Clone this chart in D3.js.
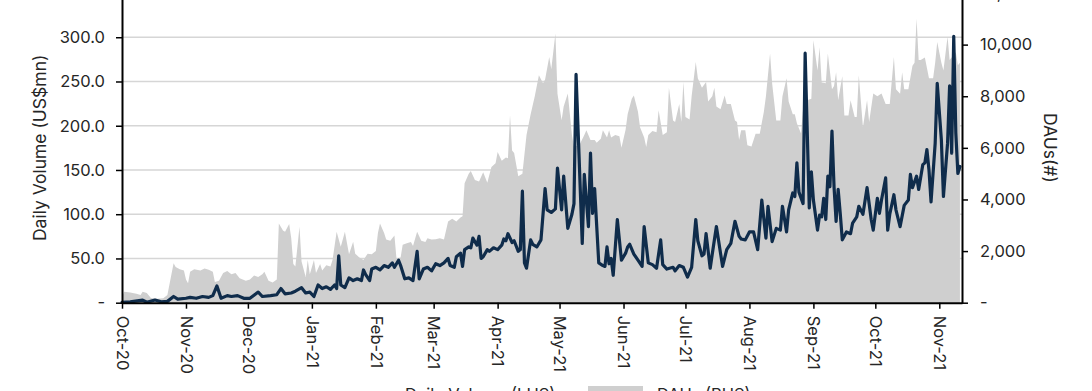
<!DOCTYPE html>
<html><head><meta charset="utf-8">
<script src="https://cdn.jsdelivr.net/npm/d3@7"></script>
<style>
html,body{margin:0;padding:0;background:#fff;overflow:hidden;}
svg{display:block;font-family:Inter,"Noto Sans",sans-serif;}
</style></head><body>
<svg id="chart" width="1092" height="391"></svg>
<script>
const volDates = ["2020-10-01","2020-10-05","2020-10-11","2020-10-13","2020-10-17","2020-10-20","2020-10-23","2020-10-26","2020-10-28","2020-11-01","2020-11-03","2020-11-06","2020-11-09","2020-11-12","2020-11-14","2020-11-16","2020-11-18","2020-11-21","2020-11-23","2020-11-26","2020-11-29","2020-12-02","2020-12-06","2020-12-08","2020-12-12","2020-12-15","2020-12-17","2020-12-19","2020-12-22","2020-12-24","2020-12-27","2020-12-29","2020-12-31","2021-01-02","2021-01-04","2021-01-06","2021-01-08","2021-01-10","2021-01-12","2021-01-13","2021-01-14","2021-01-15","2021-01-17","2021-01-19","2021-01-21","2021-01-23","2021-01-25","2021-01-26","2021-01-27","2021-01-29","2021-01-30","2021-02-01","2021-02-03","2021-02-05","2021-02-07","2021-02-09","2021-02-10","2021-02-12","2021-02-13","2021-02-15","2021-02-17","2021-02-19","2021-02-21","2021-02-22","2021-02-24","2021-02-26","2021-02-28","2021-03-02","2021-03-04","2021-03-06","2021-03-08","2021-03-09","2021-03-11","2021-03-12","2021-03-14","2021-03-15","2021-03-16","2021-03-18","2021-03-19","2021-03-20","2021-03-22","2021-03-23","2021-03-24","2021-03-25","2021-03-27","2021-03-28","2021-03-30","2021-04-01","2021-04-03","2021-04-04","2021-04-05","2021-04-06","2021-04-08","2021-04-09","2021-04-11","2021-04-12","2021-04-13","2021-04-14","2021-04-15","2021-04-17","2021-04-18","2021-04-20","2021-04-22","2021-04-24","2021-04-25","2021-04-27","2021-04-29","2021-04-30","2021-05-02","2021-05-03","2021-05-05","2021-05-07","2021-05-08","2021-05-09","2021-05-12","2021-05-13","2021-05-15","2021-05-16","2021-05-17","2021-05-18","2021-05-20","2021-05-22","2021-05-23","2021-05-24","2021-05-25","2021-05-26","2021-05-27","2021-05-29","2021-05-31","2021-06-02","2021-06-03","2021-06-04","2021-06-06","2021-06-08","2021-06-10","2021-06-11","2021-06-13","2021-06-15","2021-06-17","2021-06-19","2021-06-20","2021-06-22","2021-06-25","2021-06-26","2021-06-28","2021-06-30","2021-07-02","2021-07-04","2021-07-06","2021-07-07","2021-07-09","2021-07-10","2021-07-11","2021-07-13","2021-07-14","2021-07-16","2021-07-18","2021-07-19","2021-07-21","2021-07-23","2021-07-25","2021-07-27","2021-07-28","2021-07-30","2021-08-01","2021-08-03","2021-08-05","2021-08-07","2021-08-09","2021-08-10","2021-08-12","2021-08-14","2021-08-16","2021-08-17","2021-08-19","2021-08-20","2021-08-22","2021-08-23","2021-08-24","2021-08-25","2021-08-27","2021-08-28","2021-08-30","2021-08-31","2021-09-01","2021-09-03","2021-09-04","2021-09-05","2021-09-06","2021-09-07","2021-09-08","2021-09-09","2021-09-10","2021-09-11","2021-09-12","2021-09-13","2021-09-14","2021-09-15","2021-09-17","2021-09-19","2021-09-20","2021-09-22","2021-09-23","2021-09-25","2021-09-27","2021-09-29","2021-09-30","2021-10-02","2021-10-03","2021-10-04","2021-10-06","2021-10-07","2021-10-08","2021-10-10","2021-10-11","2021-10-13","2021-10-15","2021-10-17","2021-10-18","2021-10-19","2021-10-21","2021-10-22","2021-10-24","2021-10-25","2021-10-26","2021-10-27","2021-10-28","2021-10-30","2021-10-31","2021-11-02","2021-11-03","2021-11-05","2021-11-06","2021-11-07","2021-11-08","2021-11-09","2021-11-10","2021-11-11"];
const volValues = [0.5,1,3,0.5,3,1,1.5,7,4,5,6,5,7,6,8,19,5,8,7,8,5,5,12,7,8,9,16,10,11,13,17,11,12,7,20,16,18,15,20,16,53,20,17,28,25,27,25,37,32,25,38,40,37,42,40,45,40,48,42,27,28,25,58,27,38,40,36,44,42,45,50,42,40,52,56,41,60,63,62,73,65,75,50,52,60,58,62,60,65,72,70,78,68,70,58,60,126,45,39,71,66,63,71,129,105,102,106,152,105,143,84,100,112,258,67,145,86,169,101,129,45,42,41,63,44,50,31,94,48,56,63,66,55,48,41,86,45,43,39,71,43,38,40,36,42,40,29,40,94,70,53,55,78,39,55,86,56,41,60,67,92,75,72,71,80,80,60,116,73,109,69,84,82,109,80,105,124,120,158,125,112,282,107,148,116,82,99,97,118,94,143,131,194,131,92,128,101,71,80,78,90,97,109,100,130,94,82,118,101,116,141,82,100,122,105,86,110,116,145,130,143,128,156,158,173,150,114,180,248,184,120,180,245,169,301,192,146,154];

const dauDates = ["2020-10-01","2020-10-02","2020-10-05","2020-10-08","2020-10-10","2020-10-11","2020-10-13","2020-10-15","2020-10-18","2020-10-21","2020-10-23","2020-10-26","2020-10-27","2020-10-29","2020-10-31","2020-11-01","2020-11-02","2020-11-03","2020-11-05","2020-11-08","2020-11-10","2020-11-12","2020-11-14","2020-11-15","2020-11-17","2020-11-19","2020-11-21","2020-11-23","2020-11-25","2020-11-27","2020-11-30","2020-12-02","2020-12-04","2020-12-06","2020-12-08","2020-12-09","2020-12-11","2020-12-13","2020-12-15","2020-12-16","2020-12-18","2020-12-19","2020-12-21","2020-12-22","2020-12-23","2020-12-24","2020-12-26","2020-12-27","2020-12-29","2020-12-30","2020-12-31","2021-01-02","2021-01-03","2021-01-05","2021-01-06","2021-01-08","2021-01-10","2021-01-11","2021-01-13","2021-01-15","2021-01-17","2021-01-19","2021-01-21","2021-01-22","2021-01-24","2021-01-26","2021-01-28","2021-01-30","2021-02-01","2021-02-02","2021-02-03","2021-02-05","2021-02-06","2021-02-08","2021-02-10","2021-02-11","2021-02-13","2021-02-14","2021-02-16","2021-02-18","2021-02-19","2021-02-21","2021-02-23","2021-02-25","2021-02-26","2021-02-28","2021-03-02","2021-03-04","2021-03-06","2021-03-08","2021-03-10","2021-03-12","2021-03-14","2021-03-15","2021-03-16","2021-03-18","2021-03-19","2021-03-21","2021-03-23","2021-03-25","2021-03-27","2021-03-29","2021-03-31","2021-04-01","2021-04-03","2021-04-05","2021-04-06","2021-04-07","2021-04-08","2021-04-09","2021-04-11","2021-04-13","2021-04-15","2021-04-17","2021-04-19","2021-04-21","2021-04-23","2021-04-24","2021-04-26","2021-04-27","2021-04-29","2021-04-30","2021-05-02","2021-05-03","2021-05-05","2021-05-07","2021-05-08","2021-05-10","2021-05-11","2021-05-13","2021-05-14","2021-05-16","2021-05-18","2021-05-19","2021-05-21","2021-05-22","2021-05-24","2021-05-25","2021-05-26","2021-05-28","2021-05-30","2021-05-31","2021-06-02","2021-06-03","2021-06-05","2021-06-06","2021-06-08","2021-06-09","2021-06-11","2021-06-12","2021-06-13","2021-06-15","2021-06-17","2021-06-18","2021-06-20","2021-06-22","2021-06-23","2021-06-25","2021-06-26","2021-06-28","2021-06-29","2021-06-30","2021-07-01","2021-07-03","2021-07-04","2021-07-06","2021-07-07","2021-07-09","2021-07-11","2021-07-12","2021-07-14","2021-07-15","2021-07-16","2021-07-18","2021-07-20","2021-07-21","2021-07-23","2021-07-25","2021-07-26","2021-07-27","2021-07-28","2021-07-30","2021-07-31","2021-08-02","2021-08-04","2021-08-06","2021-08-08","2021-08-09","2021-08-11","2021-08-12","2021-08-14","2021-08-16","2021-08-17","2021-08-19","2021-08-20","2021-08-22","2021-08-23","2021-08-24","2021-08-26","2021-08-28","2021-08-29","2021-08-31","2021-09-01","2021-09-03","2021-09-04","2021-09-05","2021-09-07","2021-09-08","2021-09-10","2021-09-11","2021-09-12","2021-09-13","2021-09-15","2021-09-16","2021-09-18","2021-09-19","2021-09-21","2021-09-22","2021-09-23","2021-09-25","2021-09-27","2021-09-28","2021-09-30","2021-10-02","2021-10-04","2021-10-06","2021-10-08","2021-10-10","2021-10-11","2021-10-13","2021-10-14","2021-10-15","2021-10-17","2021-10-19","2021-10-20","2021-10-21","2021-10-22","2021-10-23","2021-10-25","2021-10-27","2021-10-29","2021-10-30","2021-10-31","2021-11-02","2021-11-03","2021-11-05","2021-11-06","2021-11-07","2021-11-09","2021-11-10","2021-11-11"];
const dauValues = [200,420,400,350,300,420,380,180,150,170,300,1530,1380,1300,1250,900,750,1200,1300,1250,1330,1280,1200,800,850,1150,1230,1100,1150,950,850,900,1050,1000,1100,1200,850,780,900,3070,2800,2750,3050,2500,1500,1400,2940,1600,1000,1650,1100,1650,1150,1500,1250,1450,1400,1650,2750,2170,2750,1880,2360,1900,1750,1650,1900,1880,2000,2700,3070,2700,2450,2400,2600,1700,1750,2250,2300,2350,2200,2750,2400,2350,2500,2450,2460,2500,2450,3150,3250,3150,3300,3350,4630,5000,5100,4750,4700,5050,4650,5260,5400,5840,5500,5630,5600,7260,5900,5800,4900,5000,6500,7300,8000,8810,8500,8650,9520,9050,10430,8100,7070,7600,8110,6500,6030,6100,6170,6500,6680,6300,6300,6200,6350,6680,6400,6680,6400,6500,6450,6000,6700,7300,7900,8030,7400,6800,6400,6030,6500,6650,6600,7460,6500,6600,8330,7060,7000,7700,7000,8550,7200,7100,8000,9330,8700,8330,8550,7800,8000,8330,7600,7500,8030,7700,7700,7060,7000,6300,6680,6680,6100,6050,6550,6550,7400,8000,9660,8500,7060,7060,8000,8700,7800,7300,7300,6950,6560,8500,7840,7900,10170,9000,9900,8530,8500,9660,8270,8400,8930,7840,8770,7250,7250,7840,7200,7200,8810,6800,7840,7000,8110,8000,8110,7700,7700,9520,8270,8100,8930,8270,8270,9180,9300,11000,9400,9400,9500,8700,8700,9300,10100,9300,9000,10300,9400,9500,9700,9200,9300];

const xDomain = ["2020-10-01","2021-11-12"];
const leftTicks = [0,50,100,150,200,250,300,350];
const rightTicks = [0,2000,4000,6000,8000,10000,12000];
const leftTitle = "Daily Volume (US$mn)";
const rightTitle = "DAUs(#)";
const legendLabels = ["Daily Volume (LHS)","DAUs (RHS)"];

const parse = d3.utcParse("%Y-%m-%d");
const vol = volDates.map((d,i)=>({date:parse(d), v:volValues[i]}));
const dau = dauDates.map((d,i)=>({date:parse(d), v:dauValues[i]}));

const svg = d3.select("#chart");
const L = 122, R = 962, B = 302.7, T = -7;
const x = d3.scaleUtc().domain(xDomain.map(parse)).range([L,R]);
const yL = d3.scaleLinear().domain([0,350]).range([B,T]);
const yR = d3.scaleLinear().domain([0,12000]).range([B,T]);

const fontSize = 16.5, txtColor = "#262626", lineColor = "#0f2c4b";

// gridlines
svg.append("g").selectAll("line").data(leftTicks.filter(t=>t>0)).join("line")
  .attr("x1",L).attr("x2",R).attr("y1",d=>yL(d)).attr("y2",d=>yL(d))
  .attr("stroke","#d6d6d6").attr("stroke-width",1.5);

// area
svg.append("path").datum(dau)
  .attr("fill","#cfcfcf")
  .attr("d", d3.area().x(d=>x(d.date)).y0(yR(0)).y1(d=>yR(d.v)));

// line
svg.append("path").datum(vol)
  .attr("fill","none").attr("stroke",lineColor).attr("stroke-width",3.2)
  .attr("stroke-linejoin","round").attr("stroke-linecap","round")
  .attr("d", d3.line().x(d=>x(d.date)).y(d=>yL(d.v)));

function styleAxis(g){
  g.select(".domain").attr("stroke","#000").attr("stroke-width",2);
  g.selectAll(".tick line").attr("stroke","#000").attr("stroke-width",1.5);
  g.selectAll("text").attr("fill",txtColor).style("font-size",fontSize+"px").style("font-family","Inter, 'Noto Sans', sans-serif");
}

const fmtL = d => d===0 ? "-" : d3.format(".1f")(d);
const fmtR = d => d===0 ? "-" : d3.format(",")(d);

svg.append("g").attr("transform",`translate(${L},0)`)
  .call(d3.axisLeft(yL).tickValues(leftTicks).tickFormat(fmtL).tickSize(6).tickSizeOuter(0).tickPadding(11))
  .call(styleAxis);

svg.append("g").attr("transform",`translate(${R},0)`)
  .call(d3.axisRight(yR).tickValues(rightTicks).tickFormat(fmtR).tickSize(6).tickSizeOuter(0).tickPadding(12))
  .call(styleAxis);

const gx = svg.append("g").attr("transform",`translate(0,${B})`)
  .call(d3.axisBottom(x).ticks(d3.utcMonth.every(1)).tickFormat(d3.utcFormat("%b-%y")).tickSize(6).tickSizeOuter(0))
  .call(styleAxis);
gx.selectAll(".tick text")
  .attr("y",0).attr("x",13).attr("dy","0.35em")
  .attr("transform","rotate(90)").style("text-anchor","start");

// axis titles
svg.append("text").attr("transform",`translate(40,${(B+T)/2}) rotate(-90)`)
  .attr("text-anchor","middle").attr("dy","0.35em")
  .attr("fill",txtColor).style("font-size","17.5px").text(leftTitle);
svg.append("text").attr("transform",`translate(1050,${(B+T)/2}) rotate(90)`)
  .attr("text-anchor","middle").attr("dy","0.35em")
  .attr("fill",txtColor).style("font-size","17.5px").text(rightTitle);

// legend (mostly cropped at the bottom, as in the reference)
const lg = svg.append("g");
lg.append("line").attr("x1",345).attr("x2",395).attr("y1",394).attr("y2",394)
  .attr("stroke",lineColor).attr("stroke-width",3.2);
lg.append("text").attr("x",405).attr("y",400).attr("fill",txtColor).style("font-size","16.5px").text(legendLabels[0]);
lg.append("rect").attr("x",588).attr("y",386).attr("width",55).attr("height",16).attr("fill","#cfcfcf");
lg.append("text").attr("x",657).attr("y",400).attr("fill",txtColor).style("font-size","16.5px").text(legendLabels[1]);
</script>
</body></html>
